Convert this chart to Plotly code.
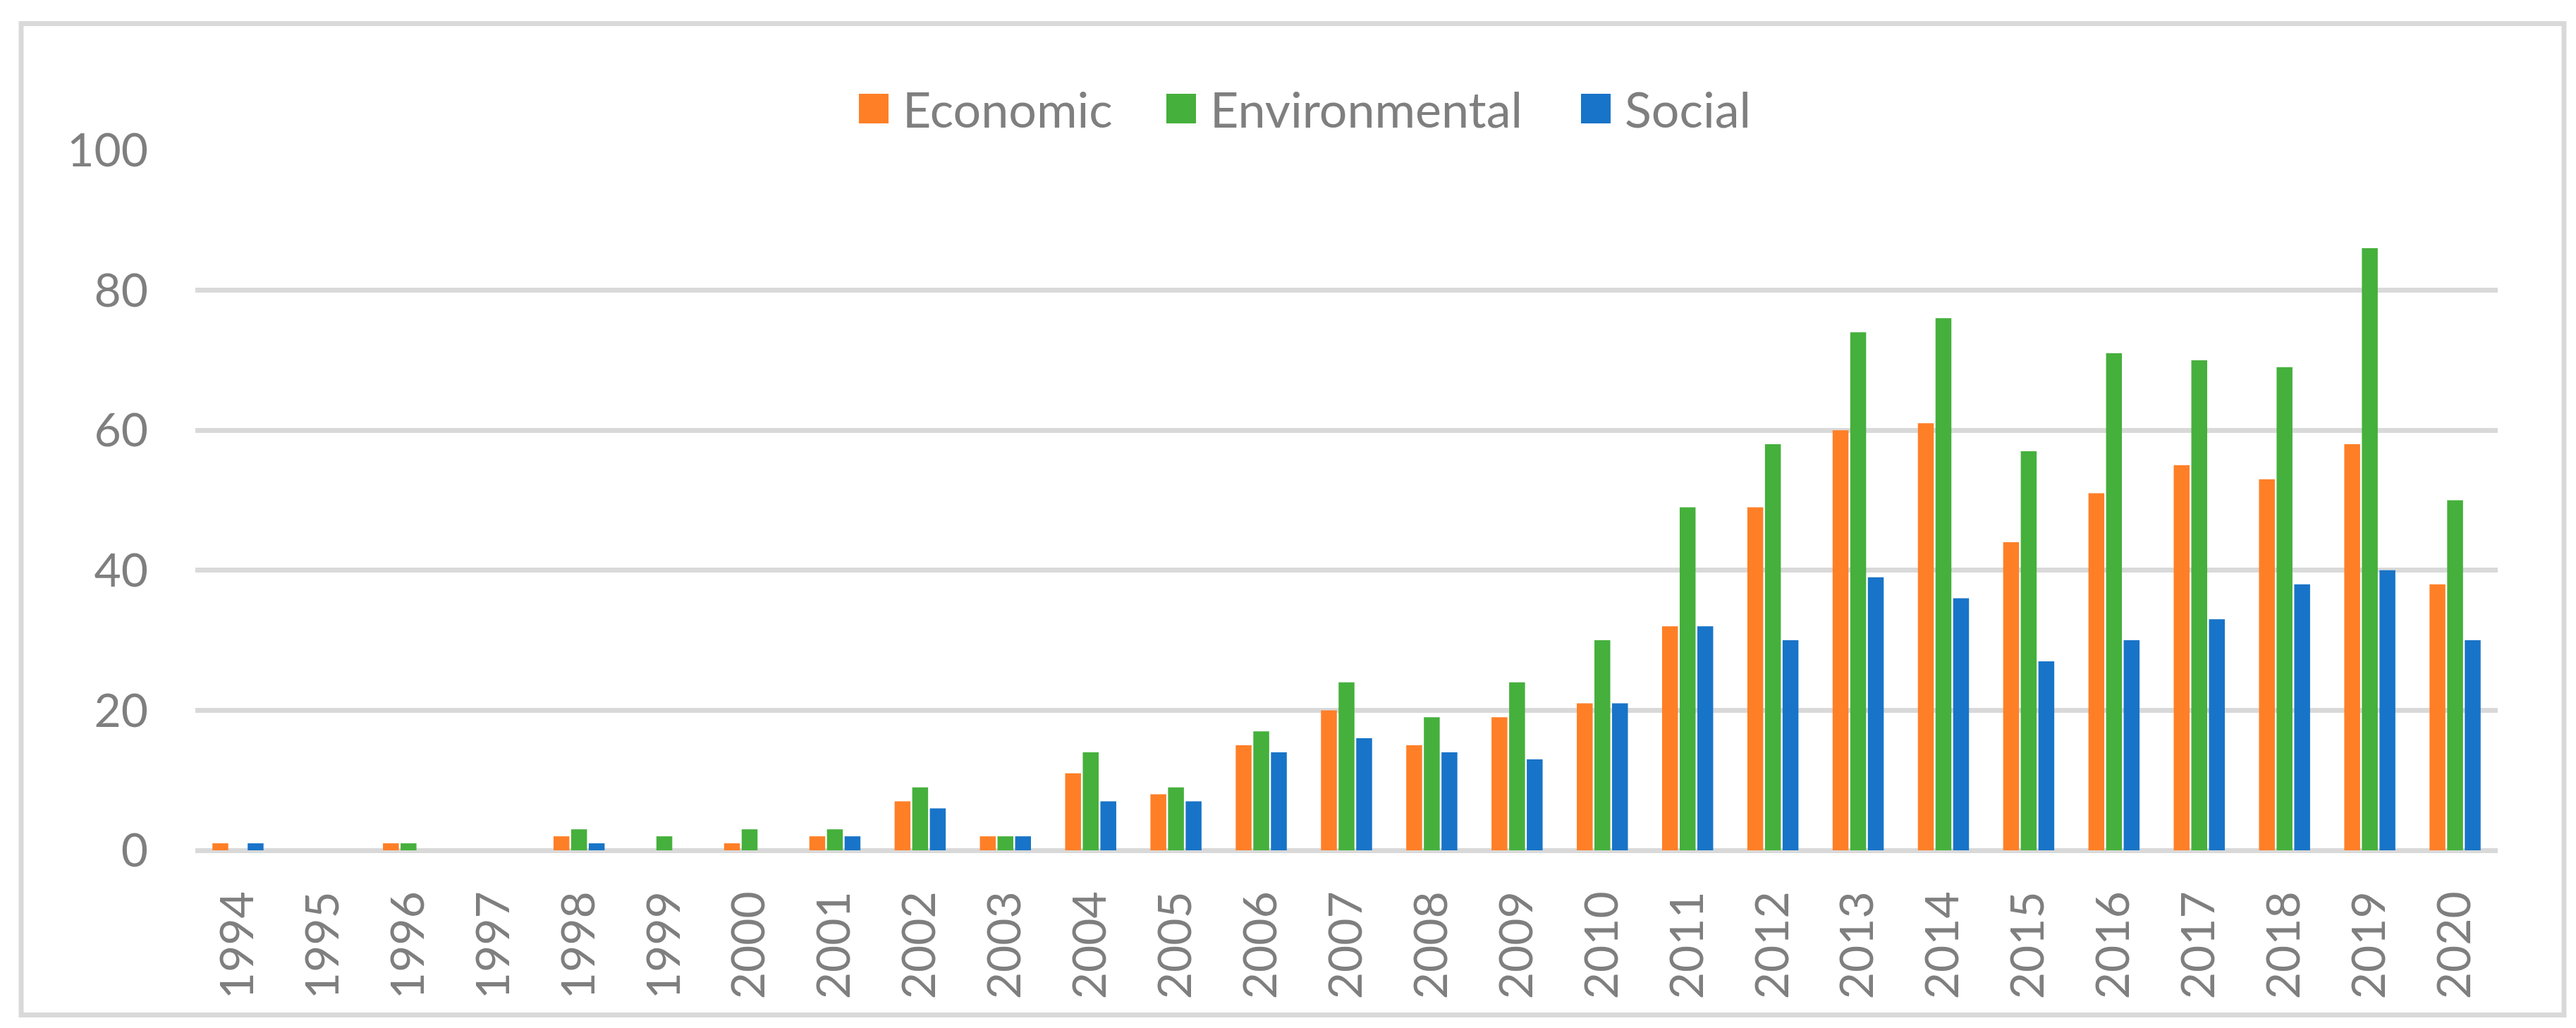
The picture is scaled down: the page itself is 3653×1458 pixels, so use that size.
import plotly.graph_objects as go

years = [str(y) for y in range(1994, 2021)]

economic = [1, 0, 1, 0, 2, 0, 1, 2, 7, 2, 11, 8, 15, 20, 15, 19, 21, 32, 49, 60, 61, 44, 51, 55, 53, 58, 38]
environmental = [0, 0, 1, 0, 3, 2, 3, 3, 9, 2, 14, 9, 17, 24, 19, 24, 30, 49, 58, 74, 76, 57, 71, 70, 69, 86, 50]
social = [1, 0, 0, 0, 1, 0, 0, 2, 6, 2, 7, 7, 14, 16, 14, 13, 21, 32, 30, 39, 36, 27, 30, 33, 38, 40, 30]

series_names = ["Economic", "Environmental", "Social"]
series_colors = ["#FF7F27", "#45B03C", "#1874C8"]
y_ticks = [0, 20, 40, 60, 80, 100]

# figure / plot area in pixels
W, H = 3653, 1458
L, R, T, B = 269, 119, 205, 259.5
PW = W - L - R
PH = H - T - B
GRAY = "#D9D9D9"
TXT = "#7F7F7F"
FONT = "Lato"


def px_x(p):
    return (p - L) / PW


def px_y(p):
    return (H - B - p) / PH


fig = go.Figure()
for name, vals, col in zip(series_names, [economic, environmental, social], series_colors):
    fig.add_trace(go.Bar(x=years, y=vals, name=name, marker_color=col,
                         marker_line_width=0, showlegend=False))

# chart-area border
fig.add_shape(type="rect", xref="paper", yref="paper",
              x0=px_x(22), x1=px_x(3628), y0=px_y(1432), y1=px_y(25.5),
              line=dict(color=GRAY, width=7), layer="below")

# legend drawn by hand so the swatches can be as big as the text
legend_x = [1210, 1646, 2234]
for name, col, x0 in zip(series_names, series_colors, legend_x):
    fig.add_shape(type="rect", xref="paper", yref="paper",
                  x0=px_x(x0), x1=px_x(x0 + 42), y0=px_y(167), y1=px_y(125),
                  fillcolor=col, line_width=0)
    fig.add_annotation(xref="paper", yref="paper", x=px_x(x0 + 60), y=px_y(146),
                       text=name, showarrow=False, xanchor="left", yanchor="middle",
                       font=dict(family=FONT, size=70, color=TXT))

fig.update_layout(
    width=W, height=H,
    margin=dict(l=L, r=R, t=T, b=B, pad=0),
    plot_bgcolor="white", paper_bgcolor="white",
    barmode="group", bargap=0.38, bargroupgap=0.1,
    font=dict(family=FONT, size=66, color=TXT),
    showlegend=False,
)
fig.update_xaxes(type="category", tickangle=-90, showgrid=False, ticks="",
                 showline=False, ticklabelstandoff=44,
                 tickfont=dict(family=FONT, size=66, color=TXT))
fig.update_yaxes(range=[0, 100], tickvals=y_ticks, showgrid=True, gridcolor=GRAY,
                 gridwidth=7, zeroline=True, zerolinecolor=GRAY, zerolinewidth=7,
                 ticks="", showline=False, ticklabelstandoff=66,
                 tickfont=dict(family=FONT, size=66, color=TXT))

fig.write_html("out.html")
